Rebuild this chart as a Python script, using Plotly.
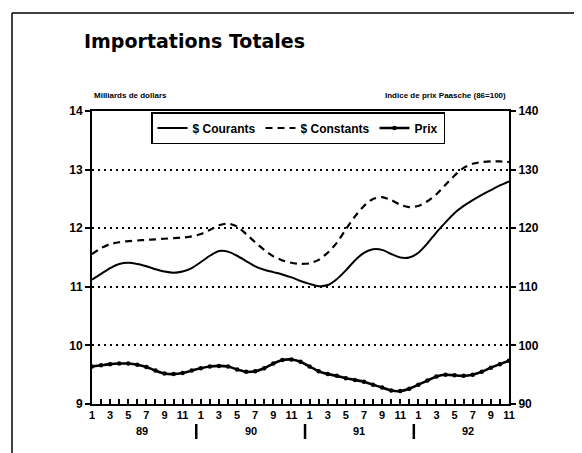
import plotly.graph_objects as go

# ---- data ----
years = ["89", "90", "91", "92"]
month_numbers = [m for y in years for m in range(1, 13)][:47]   # Jan 89 .. Nov 92

courants = [11.12, 11.22, 11.32, 11.39, 11.41, 11.39, 11.35, 11.30, 11.26, 11.24,
            11.26, 11.32, 11.42, 11.53, 11.61, 11.60, 11.53, 11.44, 11.35, 11.29,
            11.25, 11.21, 11.16, 11.10, 11.05, 11.01, 11.03, 11.13, 11.28, 11.45,
            11.58, 11.64, 11.63, 11.56, 11.50, 11.50, 11.58, 11.74, 11.93, 12.10,
            12.26, 12.38, 12.48, 12.57, 12.65, 12.73, 12.80]

constants = [11.56, 11.66, 11.73, 11.76, 11.78, 11.79, 11.80, 11.81, 11.82, 11.83,
             11.84, 11.86, 11.90, 11.97, 12.05, 12.08, 12.03, 11.90, 11.76, 11.63,
             11.52, 11.45, 11.41, 11.39, 11.40, 11.46, 11.58, 11.75, 11.98, 12.20,
             12.38, 12.50, 12.53, 12.48, 12.40, 12.36, 12.38, 12.46, 12.58, 12.74,
             12.90, 13.03, 13.10, 13.13, 13.14, 13.14, 13.13]

prix = [96.4, 96.6, 96.8, 96.9, 96.9, 96.7, 96.3, 95.7, 95.2, 95.1,
        95.3, 95.7, 96.1, 96.4, 96.5, 96.4, 95.9, 95.5, 95.6, 96.1,
        96.9, 97.5, 97.6, 97.2, 96.4, 95.6, 95.1, 94.8, 94.4, 94.1,
        93.8, 93.3, 92.8, 92.3, 92.2, 92.6, 93.3, 94.0, 94.7, 95.0,
        94.9, 94.8, 95.0, 95.5, 96.2, 96.8, 97.4]

left_ticks = [9, 10, 11, 12, 13, 14]
right_ticks = [90, 100, 110, 120, 130, 140]

x = list(range(len(month_numbers)))
tick_text = [str(m) if m % 2 == 1 else "" for m in month_numbers]

FONT = "Liberation Sans"
W, H = 582, 453
OFF = 8  # default page body margin
# desired plot area in page pixels
PX0, PX1, PY0, PY1 = 92, 509, 111, 404
ML, MT = PX0 - OFF, PY0 - OFF
MR, MB = W - (PX1 - OFF), H - (PY1 - OFF)
pw, ph = PX1 - PX0, PY1 - PY0

def py(page_y):
    return (PY1 - page_y) / ph

def px(page_x):
    return (page_x - PX0) / pw

fig = go.Figure()
fig.add_trace(go.Scatter(x=x, y=courants, name="$ Courants", mode="lines",
                         line=dict(color="black", width=2, shape="spline", smoothing=0.6)))
fig.add_trace(go.Scatter(x=x, y=constants, name="$ Constants", mode="lines",
                         line=dict(color="black", width=2.2, dash="7px,5px", shape="spline", smoothing=0.6)))
fig.add_trace(go.Scatter(x=x, y=prix, name="Prix", mode="lines+markers", yaxis="y2",
                         line=dict(color="black", width=2.6, shape="spline", smoothing=0.6),
                         marker=dict(color="black", size=4.5)))

annotations = [
    dict(text="Importations Totales", xref="paper", yref="paper", x=px(82), y=py(41),
         xanchor="left", yanchor="middle", showarrow=False,
         font=dict(family="DejaVu Sans", size=19, color="black", weight="bold")),
    dict(text="Milliards de dollars", xref="paper", yref="paper", x=px(92), y=py(95),
         xanchor="left", yanchor="middle", showarrow=False,
         font=dict(family=FONT, size=8, color="black", weight="bold")),
    dict(text="Indice de prix Paasche (86=100)", xref="paper", yref="paper", x=px(508), y=py(95),
         xanchor="right", yanchor="middle", showarrow=False,
         font=dict(family=FONT, size=8, color="black", weight="bold")),
]
shapes = []
for i, yr in enumerate(years):
    annotations.append(dict(text=yr, xref="x", yref="paper", x=12 * i + 5.5, y=py(431),
                            xanchor="center", yanchor="middle", showarrow=False,
                            font=dict(family=FONT, size=11, color="black", weight="bold")))
    if i > 0:
        shapes.append(dict(type="line", xref="x", yref="paper", x0=12 * i - 0.5, x1=12 * i - 0.5,
                           y0=py(424), y1=py(439), line=dict(color="black", width=2.5)))

# page frame (left and top edges of the scanned box)
shapes.append(dict(type="line", xref="paper", yref="paper", x0=px(12), x1=px(12), y0=py(460), y1=py(13),
                   line=dict(color="black", width=1.5)))
shapes.append(dict(type="line", xref="paper", yref="paper", x0=px(12), x1=px(590), y0=py(13), y1=py(13),
                   line=dict(color="black", width=1.5)))

fig.update_layout(
    width=W, height=H,
    margin=dict(l=ML, r=MR, t=MT, b=MB),
    paper_bgcolor="white", plot_bgcolor="white",
    font=dict(family=FONT, color="black", weight="bold"),
    showlegend=True,
    legend=dict(orientation="h", x=px(298), xanchor="center", y=py(112), yanchor="top",
                bordercolor="black", borderwidth=1.5, bgcolor="white",
                font=dict(family=FONT, size=12, color="black", weight="bold"),
                itemwidth=30, tracegroupgap=0),
    xaxis=dict(range=[0, 46], tickvals=x, ticktext=tick_text, ticks="inside", ticklen=5,
               tickwidth=1.5, tickcolor="black", showgrid=False, zeroline=False,
               showline=True, linecolor="black", linewidth=2, mirror=True,
               tickfont=dict(family=FONT, size=11, color="black", weight="bold")),
    yaxis=dict(range=[9, 14], tickvals=left_ticks, ticks="outside", ticklen=5, tickwidth=1.5,
               tickcolor="black", showgrid=True, gridcolor="black", gridwidth=1.8, griddash="2px,4px",
               zeroline=False, showline=True, linecolor="black", linewidth=2,
               tickfont=dict(family=FONT, size=12, color="black", weight="bold")),
    yaxis2=dict(range=[90, 140], tickvals=right_ticks, overlaying="y", side="right",
                ticks="outside", ticklen=5, tickwidth=1.5, tickcolor="black", showgrid=False,
                zeroline=False, showline=True, linecolor="black", linewidth=2,
                tickfont=dict(family=FONT, size=12, color="black", weight="bold")),
    annotations=annotations,
    shapes=shapes,
)

fig.write_html("out.html")
